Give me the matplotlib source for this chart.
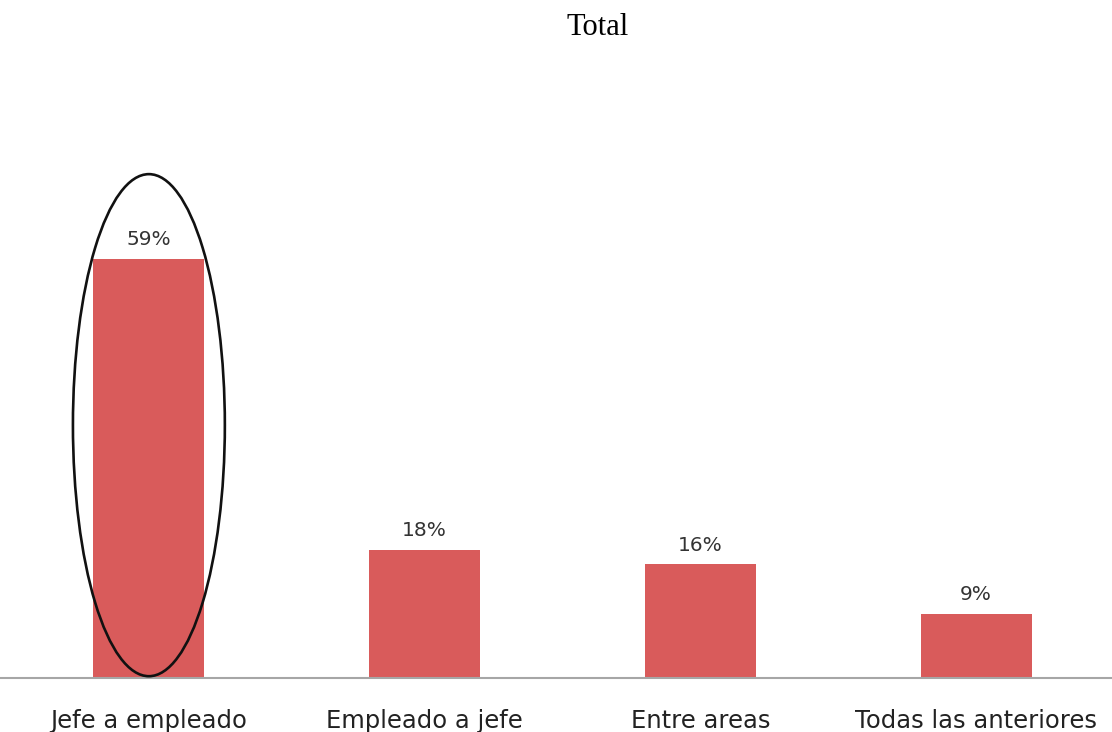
import matplotlib.pyplot as plt
from matplotlib.patches import Ellipse

# Datos del grafico
categorias = ['Jefe a empleado', 'Empleado a jefe', 'Entre areas', 'Todas las anteriores']
valores = [59, 18, 16, 9]
etiquetas = ['59%', '18%', '16%', '9%']

color_barra = '#D95B5B'

fig = plt.figure(figsize=(11.12, 7.32), dpi=100)
ax = fig.add_axes([0, 0.0738, 1, 0.844])

x = range(len(categorias))
barras = ax.bar(x, valores, width=0.403, color=color_barra, zorder=2)

ax.set_xlim(-0.54, 3.493)
ax.set_ylim(0, 87)

# Etiquetas de valor encima de cada barra
for b, txt in zip(barras, etiquetas):
    ax.annotate(txt, (b.get_x() + b.get_width() / 2, b.get_height()),
                xytext=(0, 7), textcoords='offset points',
                ha='center', va='bottom', fontsize=14.5, family='DejaVu Sans',
                color='#333333')

# Elipse que resalta la primera barra
elipse = Ellipse((0, 35.6), width=0.551, height=70.7, fill=False,
                 edgecolor='#111111', linewidth=1.9, zorder=3, clip_on=False)
ax.add_patch(elipse)

for lado in ['top', 'right', 'left']:
    ax.spines[lado].set_visible(False)
ax.spines['bottom'].set_color('#A6A6A6')
ax.spines['bottom'].set_linewidth(1.5)

ax.set_yticks([])
ax.set_xticks(list(x))
ax.set_xticklabels(categorias, fontsize=17.5, family='DejaVu Sans', color='#222222')
ax.tick_params(axis='x', length=0, pad=22)

fig.text(0.537, 0.962, 'Total', ha='center', va='center',
         fontsize=22, family='Liberation Serif')

fig.savefig('out.png', dpi=100)
